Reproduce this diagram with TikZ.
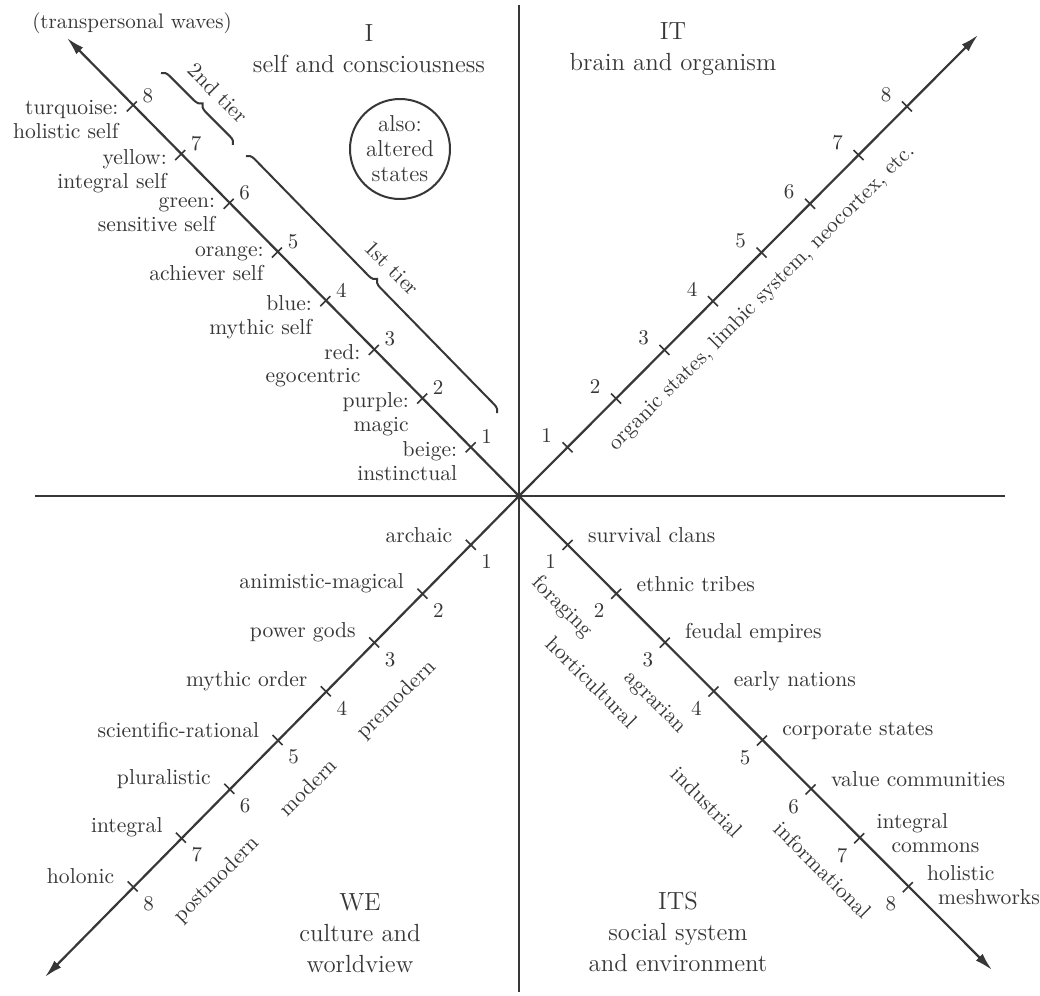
\documentclass[tikz,border=0pt]{standalone}
\usetikzlibrary{calc,arrows.meta,decorations.pathreplacing}
\definecolor{ink}{RGB}{55,55,55}
\begin{document}
\begin{tikzpicture}[x=0.5pt,y=-0.5pt,
  axisline/.style={draw=ink,line width=1.1pt},
  quadline/.style={draw=ink,line width=1.35pt},
  arrowed/.style={axisline,-{Latex[length=9pt,width=4.8pt]}},
  tickmark/.style={draw=ink,line width=0.8pt},
  lbl/.style={font=\fontsize{10.8}{11.8}\selectfont,text=ink,inner sep=0pt},
  num/.style={font=\fontsize{10.5}{12}\selectfont,text=ink,inner sep=0pt},
  title/.style={font=\fontsize{12.4}{15.5}\selectfont,text=ink,align=center,inner sep=0pt},
  tierbrace/.style={draw=ink,line width=1pt,decorate,decoration={brace,amplitude=4pt,aspect=0.5}}]
\useasboundingbox (0,0) rectangle (1040,996);
\fill[white] (0,0) rectangle (1040,996);
% main coordinates
\coordinate (O) at (519,496);
\coordinate (W) at (35,496);
\coordinate (E) at (1005,496);
\coordinate (N) at (519,5);
\coordinate (S) at (519,992);
\coordinate (ULtip) at (67,38);
\coordinate (URtip) at (978,35);
\coordinate (LLtip) at (45,977);
\coordinate (LRtip) at (992,970);
% quadrant lines
\draw[quadline] (W) -- (E);
\draw[quadline] (N) -- (S);
% diagonal axes
\draw[arrowed] (O) -- (ULtip);
\draw[arrowed] (O) -- (URtip);
\draw[arrowed] (O) -- (LLtip);
\draw[arrowed] (O) -- (LRtip);
% upper-left: self
\foreach \k/\a/\b in {1/beige:/instinctual,2/purple:/magic,3/red:/egocentric,4/blue:/mythic self,5/orange:/achiever self,6/green:/sensitive self,7/yellow:/integral self,8/turquoise:/holistic self}{
  \coordinate (ul\k) at ($(O)+\k*(-48.4,-48.7)$);
  \draw[tickmark] ($(ul\k)+(-5,5)$) -- ($(ul\k)+(5,-5)$);
  \node[num] (uln\k) at ($(ul\k)+(16,-11)$) {\k};
  \node[lbl,anchor=north east,align=right] (ull\k) at ($(ul\k)+(-13,-6)$) {\a\\\b};
}
% upper-right: brain
\foreach \k in {1,...,8}{
  \coordinate (ur\k) at ($(O)+\k*(48.5,-48.7)$);
  \draw[tickmark] ($(ur\k)+(-5,-5)$) -- ($(ur\k)+(5,5)$);
  \node[num] (urn\k) at ($(ur\k)+(-21,-12)$) {\k};
}
% lower-left: culture
\foreach \k/\a in {1/archaic,2/animistic-magical,3/power gods,4/mythic order,5/scientific-rational,6/pluralistic,7/integral,8/holonic}{
  \coordinate (ll\k) at ($(O)+\k*(-48.3,48.8)$);
  \draw[tickmark] ($(ll\k)+(-5,-5)$) -- ($(ll\k)+(5,5)$);
  \node[num] (lln\k) at ($(ll\k)+(16,17)$) {\k};
  \node[lbl,anchor=east] (lll\k) at ($(ll\k)+(-18,-10)$) {\a};
}
% lower-right: social
\foreach \k/\a in {1/survival clans,2/ethnic tribes,3/feudal empires,4/early nations,5/corporate states,6/value communities}{
  \coordinate (lr\k) at ($(O)+\k*(48.6,48.9)$);
  \draw[tickmark] ($(lr\k)+(-5,5)$) -- ($(lr\k)+(5,-5)$);
  \node[num] (lrn\k) at ($(lr\k)+(-17,17)$) {\k};
  \node[lbl,anchor=west] (lrl\k) at ($(lr\k)+(20,-10)$) {\a};
}
\foreach \k in {7,8}{
  \coordinate (lr\k) at ($(O)+\k*(48.6,48.9)$);
  \draw[tickmark] ($(lr\k)+(-5,5)$) -- ($(lr\k)+(5,-5)$);
  \node[num] (lrn\k) at ($(lr\k)+(-17,17)$) {\k};
}
\node[lbl,anchor=west,align=left] (lrl7) at ($(lr7)+(17,-5)$) {integral\\\hspace*{7.5pt}commons};
\node[lbl,anchor=west,align=left] (lrl8) at ($(lr8)+(19,-2)$) {holistic\\\hspace*{5.5pt}meshworks};
% rotated stage labels
\node[lbl,rotate=45] (brainlbl) at (762,298) {organic states, limbic system, neocortex, etc.};
\node[lbl,rotate=45] (premod) at (397,700) {premodern};
\node[lbl,rotate=45] (mod) at (308,787) {modern};
\node[lbl,rotate=45] (postmod) at (217,880) {postmodern};
\node[lbl,rotate=-45] (forag) at (562,607) {foraging};
\node[lbl,rotate=-45] (hort) at (592,682) {horticultural};
\node[lbl,rotate=-45] (agrar) at (655,703) {agrarian};
\node[lbl,rotate=-45] (indus) at (707,802) {industrial};
\node[lbl,rotate=-45] (inform) at (823,870) {informational};
% tiers
\coordinate (t2a) at (161,73);
\coordinate (t2b) at (233,145);
\coordinate (t1a) at (246,156);
\coordinate (t1b) at (497,413);
\draw[tierbrace] (t2a) -- (t2b);
\draw[tierbrace] (t1a) -- (t1b);
\node[lbl,rotate=-45] (tier2) at (218,93) {2nd tier};
\node[lbl,rotate=-45] (tier1) at (392,268) {1st tier};
% circle
\node[lbl,circle,draw=ink,line width=1pt,minimum size=50pt,align=center,font=\fontsize{11.5}{12.5}\selectfont] (states) at (400,149) {also:\\altered\\states};
% titles
\node[lbl,font=\fontsize{10.5}{12}\selectfont] (trans) at (132,23) {(transpersonal waves)};
\node[title] (tI) at (369,49) {I\\self and consciousness};
\node[title] (tIT) at (673,49) {IT\\brain and organism};
\node[title] (tWE) at (360,933) {WE\\culture and\\worldview};
\node[title] (tITS) at (678,932) {ITS\\social system\\and environment};
\end{tikzpicture}
\end{document}
